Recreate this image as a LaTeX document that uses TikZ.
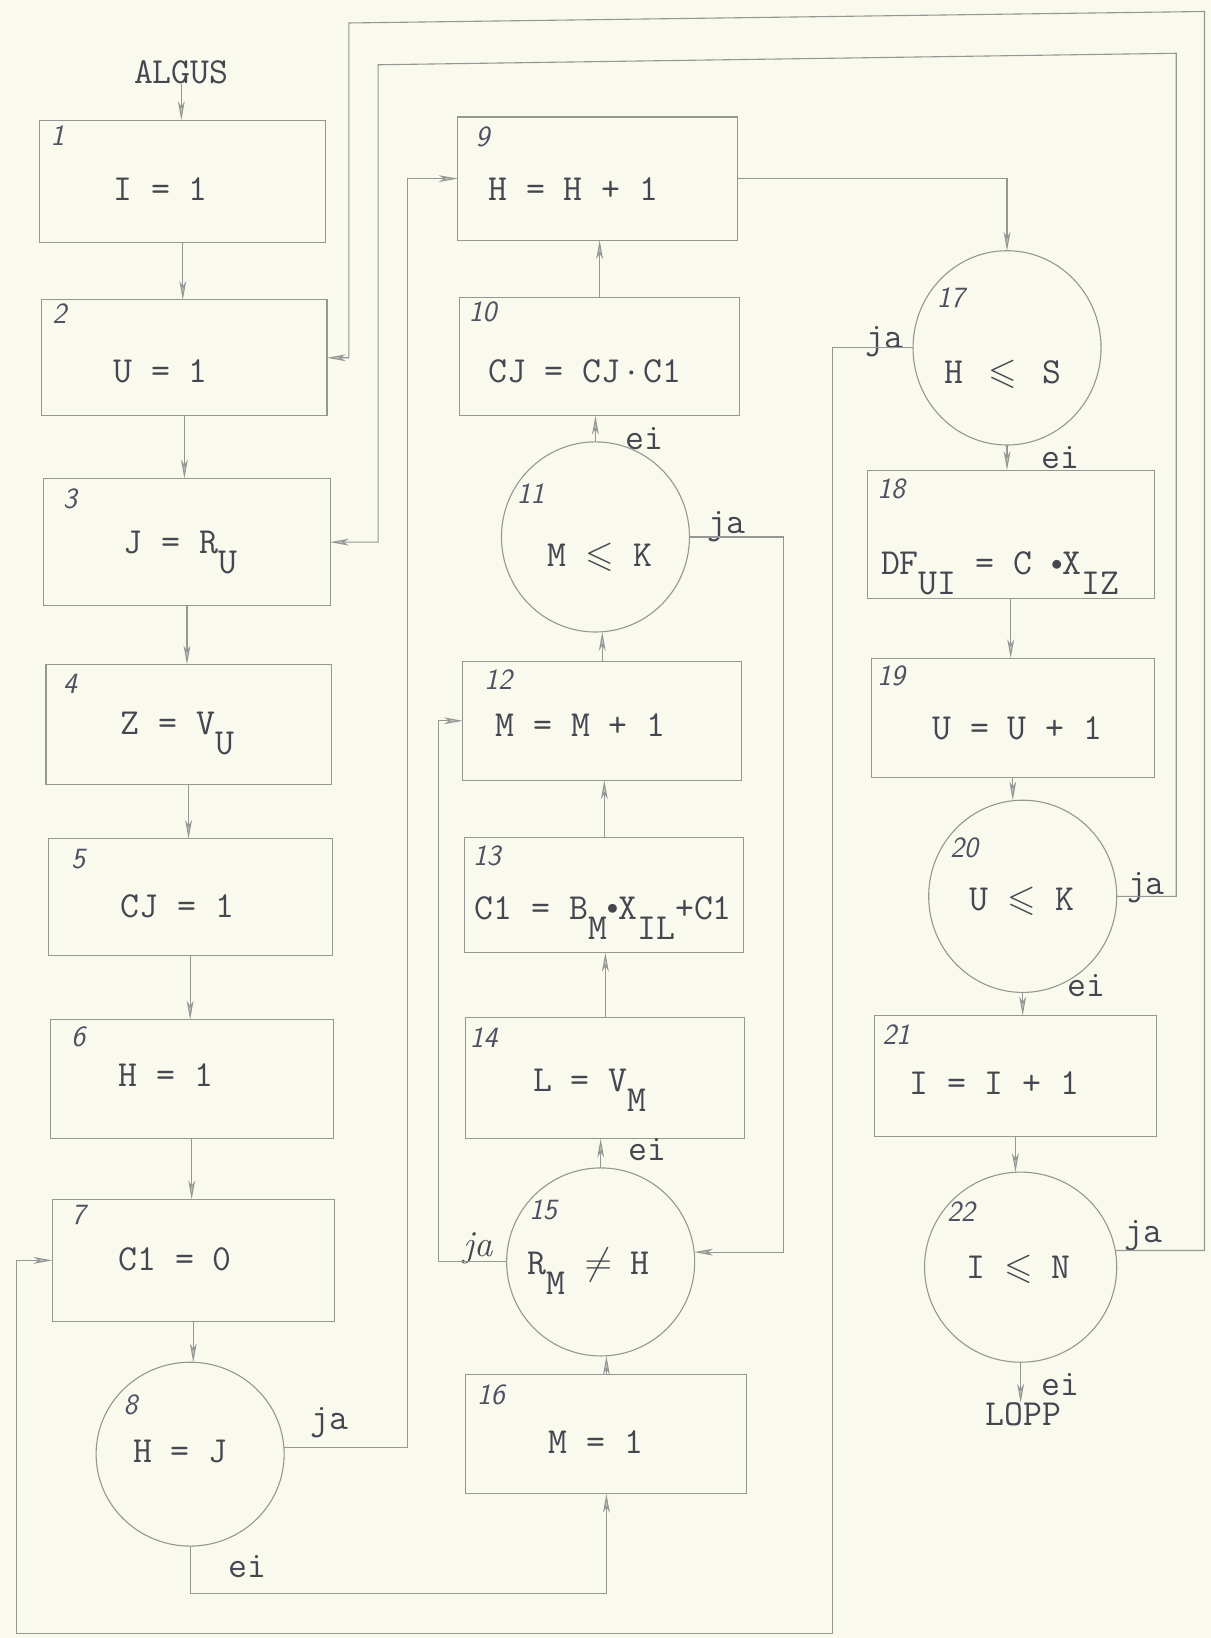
\documentclass[tikz,border=0pt]{standalone}
\usepackage{amssymb}
\usepackage{graphicx}
\usetikzlibrary{arrows.meta,shapes.geometric}
\definecolor{paper}{RGB}{250,249,238}
\definecolor{pencil}{RGB}{150,150,148}
\definecolor{ink}{RGB}{70,70,80}
\definecolor{hand}{RGB}{80,80,98}
\newcommand\lw[1]{\raisebox{-0.55em}{#1}}
\newcommand\dotop{\raisebox{0.12em}{\scalebox{0.6}{$\bullet$}}}
\newcommand\mkbox[5]{\node[box, minimum width={(#4-#2)*0.02cm}, minimum height={(#5-#3)*0.02cm}] (#1) at ({(#2+#4)/2},{(#3+#5)/2}) {};}
\newcommand\mkdec[5]{\node[dec, minimum width={2*#4*0.02cm}, minimum height={2*#5*0.02cm}] (#1) at (#2,#3) {};}
\begin{document}
\begin{tikzpicture}[x=0.02cm,y=-0.02cm,
  box/.style={draw=pencil, line width=0.6pt, rectangle, inner sep=0pt, outer sep=0pt},
  dec/.style={draw=pencil, line width=0.6pt, ellipse, inner sep=0pt, outer sep=0pt},
  conn/.style={draw=pencil, line width=0.6pt},
  arr/.style={conn, -{Stealth[length=3.6mm,width=1.3mm,inset=1mm,fill=pencil!60]}},
  txt/.style={text=ink, font=\fontsize{20}{24}\selectfont\ttfamily, anchor=base west, inner sep=0pt},
  num/.style={text=hand, font=\fontsize{16}{18}\selectfont\sffamily\itshape, anchor=center, inner sep=0pt},
  lab/.style={text=ink, font=\fontsize{20}{24}\selectfont\ttfamily, anchor=center, inner sep=0pt}
]
\fill[paper] (0,0) rectangle (1159,1568);
\useasboundingbox (0,0) rectangle (1159,1568);

% boxes
\mkbox{b1}{38}{115}{312}{232}
\mkbox{b2}{40}{287}{313}{398}
\mkbox{b3}{42}{458}{316}{580}
\mkbox{b4}{44}{636}{317}{751}
\mkbox{b5}{46}{803}{318}{915}
\mkbox{b6}{48}{976}{319}{1090}
\mkbox{b7}{50}{1148}{320}{1265}
\mkbox{b9}{438}{112}{706}{230}
\mkbox{b10}{440}{285}{708}{398}
\mkbox{b12}{443}{633}{710}{747}
\mkbox{b13}{445}{802}{712}{912}
\mkbox{b14}{446}{974}{713}{1090}
\mkbox{b16}{446}{1316}{715}{1430}
\mkbox{b18}{830}{450}{1105}{573}
\mkbox{b19}{834}{630}{1105}{744}
\mkbox{b21}{837}{972}{1107}{1088}

% decisions
\mkdec{c8}{182}{1392}{90}{88}
\mkdec{c11}{570}{514}{90}{91}
\mkdec{c15}{575}{1208}{90}{90}
\mkdec{c17}{964}{333}{90}{93}
\mkdec{c20}{979}{858}{90}{92}
\mkdec{c22}{977}{1213}{92}{91}

% texts
\node[txt] (algus) at (128,80) {ALGUS};
\node[txt] (t1) at (108,192) {I = 1};
\node[txt] (t2) at (108,366) {U = 1};
\node[txt] (t3) at (118,530) {J = R\lw{U}};
\node[txt] (t4) at (115,703) {Z = V\lw{U}};
\node[txt] (t5) at (115,878) {CJ = 1};
\node[txt] (t6) at (113,1040) {H = 1};
\node[txt] (t7) at (113,1216) {C1 = 0};
\node[txt] (t8) at (127,1400) {H = J};
\node[txt] (t9) at (467,192) {H = H + 1};
\node[txt] (t10) at (467,366) {CJ = CJ{\,$\cdot$\,}C1};
\node[txt] (t11) at (524,542) {M $\leqslant$ K};
\node[txt] (t12) at (474,705) {M = M + 1};
\node[txt] (t13) at (454,880) {C1 = B\lw{M}\dotop X\lw{IL}+C1};
\node[txt] (t14) at (510,1045) {L = V\lw{M}};
\node[txt] (t15) at (505,1220) {R\lw{M} $\neq$ H};
\node[txt] (t16) at (525,1391) {M = 1};
\node[txt] (t17) at (904,367) {H \,$\leqslant$\, S};
\node[txt] (t18) at (843,550) {DF\lw{UI} = C \dotop X\lw{IZ}};
\node[txt] (t19) at (892,708) {U = U + 1};
\node[txt] (t20) at (928,872) {U $\leqslant$ K};
\node[txt] (t21) at (870,1048) {I = I + 1};
\node[txt] (t22) at (925,1224) {I $\leqslant$ N};
\node[txt] (lopp) at (943,1365) {LOPP};

% numbers
\node[num] (n1) at (55,130) {1};
\node[num] (n2) at (57,300) {2};
\node[num] (n3) at (67,478) {3};
\node[num] (n4) at (67,655) {4};
\node[num] (n5) at (75,822) {5};
\node[num] (n6) at (75,993) {6};
\node[num] (n7) at (75,1163) {7};
\node[num] (n8) at (125,1345) {8};
\node[num] (n9) at (462,131) {9};
\node[num] (n10) at (462,299) {10};
\node[num] (n11) at (508,473) {11};
\node[num] (n12) at (477,651) {12};
\node[num] (n13) at (466,819) {13};
\node[num] (n14) at (463,993) {14};
\node[num] (n15) at (520,1158) {15};
\node[num] (n16) at (470,1335) {16};
\node[num] (n17) at (910,285) {17};
\node[num] (n18) at (853,468) {18};
\node[num] (n19) at (853,647) {19};
\node[num] (n20) at (923,812) {20};
\node[num] (n21) at (858,990) {21};
\node[num] (n22) at (920,1160) {22};

% branch labels
\node[lab] (ja8) at (315,1362) {ja};
\node[lab] (ei8) at (237,1500) {ei};
\node[lab] (ei11) at (617,420) {ei};
\node[lab] (ja11) at (695,504) {ja};
\node[lab] (ei15) at (620,1100) {ei};
\node[lab, font=\fontsize{20}{24}\selectfont\rmfamily\itshape] (ja15) at (458,1195) {ja};
\node[lab] (ja17) at (847,327) {ja};
\node[lab] (ei17) at (1015,438) {ei};
\node[lab] (ja20) at (1097,850) {ja};
\node[lab] (ei20) at (1040,943) {ei};
\node[lab] (ja22) at (1095,1183) {ja};
\node[lab] (ei22) at (1015,1325) {ei};

% routing coordinates
\coordinate (k1) at (390,0);
\coordinate (k2) at (0,1525);
\coordinate (k3) at (750,0);
\coordinate (k4) at (420,0);
\coordinate (k5) at (797,1564);
\coordinate (k6) at (16,1564);
\coordinate (k7) at (1126,51);
\coordinate (k8) at (362,62);
\coordinate (k9) at (1153,11);
\coordinate (k10) at (334,22);

% straight flow
\draw[arr] (algus.south) -- (algus.south |- b1.north);
\draw[arr] (b1.south) -- (b1.south |- b2.north);
\draw[arr] (b2.south) -- (b2.south |- b3.north);
\draw[arr] (b3.south) -- (b3.south |- b4.north);
\draw[arr] (b4.south) -- (b4.south |- b5.north);
\draw[arr] (b5.south) -- (b5.south |- b6.north);
\draw[arr] (b6.south) -- (b6.south |- b7.north);
\draw[arr] (b7.south) -- (b7.south |- c8.north);
\draw[arr] (b10.north) -- (b10.north |- b9.south);
\draw[arr] (c11.north) -- (c11.north |- b10.south);
\draw[arr] (b12.north) -- (b12.north |- c11.south);
\draw[arr] (b13.north) -- (b13.north |- b12.south);
\draw[arr] (b14.north) -- (b14.north |- b13.south);
\draw[arr] (c15.north) -- (c15.north |- b14.south);
\draw[arr] (b16.north) -- (b16.north |- c15.south);
\draw[arr] (c17.south) -- (c17.south |- b18.north);
\draw[arr] (b18.south) -- (b18.south |- b19.north);
\draw[arr] (b19.south) -- (b19.south |- c20.north);
\draw[arr] (c20.south) -- (c20.south |- b21.north);
\draw[arr] (b21.south) -- (b21.south |- c22.north);
\draw[arr] (c22.south) -- (c22.south |- lopp.north);

% branches
\draw[arr] (c8.4) -- (c8.4 -| k1) |- (b9.west);
\draw[arr] (c8.south) -- (c8.south |- k2) -| (b16.south);
\draw[arr] (b9.east) -| (c17.north);
\draw[arr] (c11.east) -- (c11.east -| k3) |- (c15.6);
\draw[arr] (c15.west) -- (c15.west -| k4) |- (b12.west);
\draw[arr] (c17.west) -- (c17.west -| k5) -- (k5) -- (k6) |- (b7.west);
\draw[arr] (c20.east) -- (c20.east -| k7) -- (k7) -- (k8) |- (b3.east);
\draw[arr] (c22.10) -- (c22.10 -| k9) -- (k9) -- (k10) |- (b2.east);
\end{tikzpicture}
\end{document}
